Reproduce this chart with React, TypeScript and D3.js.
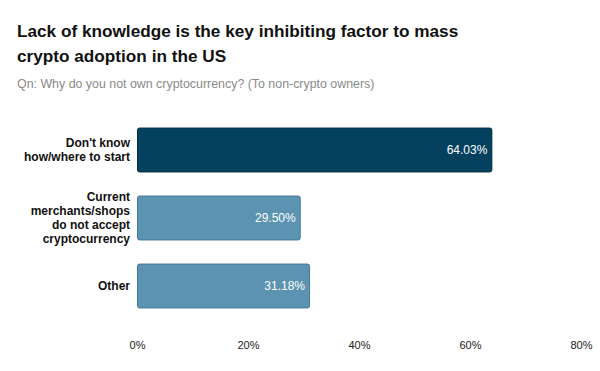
import React, { useEffect, useRef } from 'react';
import * as d3 from 'd3';

// reasons and share of non-owners
const categories = [
  ["Don't know", 'how/where to start'],
  ['Current', 'merchants/shops', 'do not accept', 'cryptocurrency'],
  ['Other'],
];
const values = [64.03, 29.5, 31.18];
const tickValues = [0, 20, 40, 60, 80];

const title = ['Lack of knowledge is the key inhibiting factor to mass', 'crypto adoption in the US'];
const subtitle = 'Qn: Why do you not own cryptocurrency? (To non-crypto owners)';

const App = () => {
  const svgRef = useRef<SVGSVGElement>(null);

  useEffect(() => {
    const svg = d3.select(svgRef.current);
    svg.selectAll('*').remove();

    const width = 600;
    const height = 371;
    const font = 'Liberation Sans, Arial, sans-serif';

    svg
      .attr('width', width)
      .attr('height', height)
      .attr('viewBox', [0, 0, width, height])
      .style('display', 'block')
      .style('position', 'absolute')
      .style('left', '0px')
      .style('top', '0px')
      .style('font-family', font);

    svg.append('rect').attr('width', width).attr('height', height).attr('fill', '#fff');

    // Title + subtitle
    svg.append('g')
      .selectAll('text')
      .data(title)
      .join('text')
      .attr('x', 17)
      .attr('y', (d, i) => 37 + i * 24.5)
      .attr('font-size', 17.2)
      .attr('font-weight', 'bold')
      .attr('fill', '#111')
      .text(d => d);

    svg.append('text')
      .attr('x', 17)
      .attr('y', 88)
      .attr('font-size', 12.4)
      .attr('fill', '#8a8a8a')
      .text(subtitle);

    const x = d3.scaleLinear().domain([0, 80]).range([137, 581]);
    const y = d3.scaleBand<number>()
      .domain(d3.range(values.length))
      .range([116, 320])
      .paddingInner(0.34)
      .paddingOuter(0.17);

    const bars = svg.append('g');
    bars.selectAll('rect')
      .data(values)
      .join('rect')
      .attr('x', x(0) + 0.5)
      .attr('y', (d, i) => y(i)! + 0.5)
      .attr('width', d => x(d) - x(0) - 1)
      .attr('height', y.bandwidth() - 1)
      .attr('rx', 2)
      .attr('fill', (d, i) => (i === 0 ? '#03415f' : '#5b93b0'))
      .attr('stroke', (d, i) => (i === 0 ? '#022d43' : '#44799a'))
      .attr('stroke-width', 1);

    // value labels inside bars
    bars.selectAll('text')
      .data(values)
      .join('text')
      .attr('x', d => x(d) - 5)
      .attr('y', (d, i) => y(i)! + y.bandwidth() / 2)
      .attr('dy', '0.35em')
      .attr('text-anchor', 'end')
      .attr('font-size', 12)
      .attr('fill', '#fff')
      .text(d => d.toFixed(2) + '%');

    // category labels
    const lineH = 14;
    const labels = svg.append('g');
    labels.selectAll('text')
      .data(categories)
      .join('text')
      .attr('text-anchor', 'end')
      .attr('font-size', 12)
      .attr('font-weight', 'bold')
      .attr('fill', '#111')
      .each(function (lines, i) {
        const cy = y(i)! + y.bandwidth() / 2;
        const start = cy - ((lines.length - 1) * lineH) / 2;
        d3.select(this)
          .selectAll('tspan')
          .data(lines)
          .join('tspan')
          .attr('x', 130)
          .attr('y', (d, j) => start + j * lineH)
          .attr('dy', '0.35em')
          .text(d => d);
      });

    // x axis labels
    const axis = svg.append('g')
      .attr('transform', 'translate(0,345)')
      .call(d3.axisBottom(x).tickValues(tickValues).tickSize(0).tickPadding(0).tickFormat(d => d + '%'));
    axis.select('.domain').remove();
    axis.selectAll('text')
      .attr('font-family', font)
      .attr('font-size', 11)
      .attr('fill', '#222')
      .attr('dy', '0.35em');
  }, []);

  return <svg ref={svgRef}></svg>;
};

export default App;
